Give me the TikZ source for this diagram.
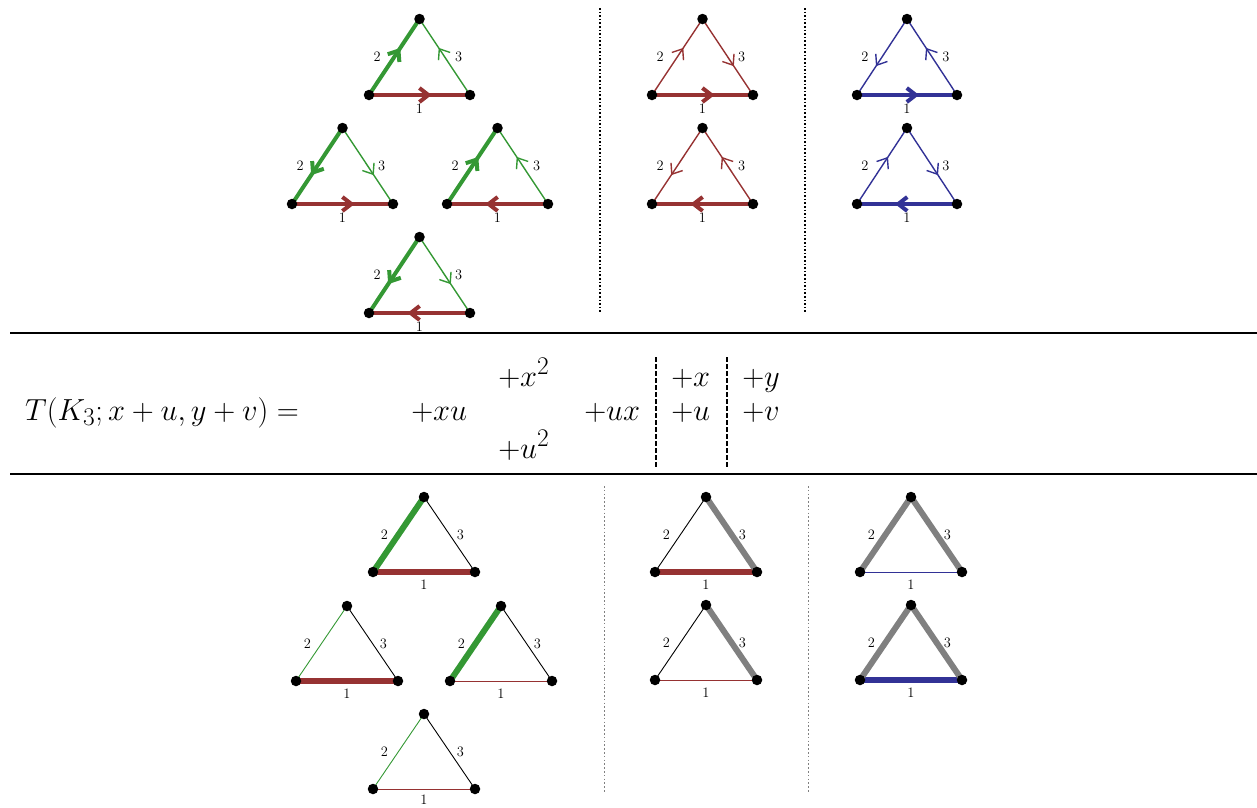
\documentclass[tikz,border=0pt]{standalone}
\usetikzlibrary{arrows.meta,decorations.markings}
\definecolor{cg}{RGB}{52,152,52}
\definecolor{cr}{RGB}{150,50,50}
\definecolor{cb}{RGB}{50,50,150}
\definecolor{cgr}{RGB}{128,128,128}
\pgfdeclarelayer{bg}
\pgfsetlayers{bg,main}
\tikzset{
  vtx/.style={circle, fill=black, inner sep=0pt, minimum size=10.5pt},
  lbl/.style={font=\fontsize{14.4}{16}\selectfont, inner sep=0pt},
  eqn/.style={font=\fontsize{24.88}{30}\selectfont, inner sep=0pt, anchor=base west, scale=1.226, transform shape},
  midarrow/.style={postaction={decorate, decoration={markings,
      mark=at position 0.62 with {\arrow{Straight Barb[length=9pt,width=14pt]}}}}},
  thk/.style={line width=4pt},
  thn/.style={line width=1.4pt},
  fat/.style={line width=6pt},
  fine/.style={line width=0.9pt},
  sepline/.style={line width=2.3pt},
  topsep/.style={line width=1.4pt, dash pattern=on 1.6pt off 2pt},
  botsep/.style={line width=0.9pt, cgr, dash pattern=on 1.6pt off 2.2pt},
  eqsep/.style={line width=2pt, dash pattern=on 4.5pt off 2.5pt},
}
% #1 name, #2 x of left vertex, #3 y of base, #4 width, #5 height, #6 dx of label 2, #7 dx of label 3, #8 dy of label 1
\newcommand\tri[8]{%
  \node[vtx] (#1l) at (#2,#3) {};
  \node[vtx] (#1r) at (#2+#4,#3) {};
  \node[vtx] (#1t) at (#2+#4/2,#3-#5) {};
  \node[lbl] (#1n1) at (#2+#4/2,#3+#8) {1};
  \node[lbl] (#1n2) at (#2+#4/4+#6,#3-#5/2) {2};
  \node[lbl] (#1n3) at (#2+3*#4/4+#7,#3-#5/2) {3};
}
\begin{document}
\begin{tikzpicture}[x=1pt,y=-1pt]
\useasboundingbox (0,0) rectangle (1257,807);
% ---------- top section ----------
\tri{A}{369}{95}{101}{76}{-17}{14}{14}
\tri{B}{292}{204}{101}{76}{-17}{14}{14}
\tri{C}{447}{204}{101}{76}{-17}{14}{14}
\tri{D}{369}{313}{101}{76}{-17}{14}{14}
\tri{E}{652}{95}{101}{76}{-17}{14}{14}
\tri{F}{652}{204}{101}{76}{-17}{14}{14}
\tri{G}{857}{95}{100}{76}{-17}{14}{14}
\tri{H}{857}{204}{100}{76}{-17}{14}{14}
% ---------- bottom section ----------
\tri{I}{373}{572}{102}{75}{-14}{11}{13}
\tri{N}{296}{681}{102}{75}{-14}{11}{13}
\tri{O}{450}{681}{102}{75}{-14}{11}{13}
\tri{P}{373}{789}{102}{75}{-14}{11}{11}
\tri{J}{655}{572}{102}{75}{-14}{11}{13}
\tri{L}{655}{680}{102}{75}{-14}{11}{13}
\tri{K}{860}{572}{102}{75}{-14}{11}{13}
\tri{M}{860}{680}{102}{75}{-14}{11}{13}
\begin{pgfonlayer}{bg}
  % A
  \draw[cr,thk,midarrow] (Al.center) -- (Ar.center);
  \draw[cg,thk,midarrow] (Al.center) -- (At.center);
  \draw[cg,thn,midarrow] (Ar.center) -- (At.center);
  % B
  \draw[cr,thk,midarrow] (Bl.center) -- (Br.center);
  \draw[cg,thk,midarrow] (Bt.center) -- (Bl.center);
  \draw[cg,thn,midarrow] (Bt.center) -- (Br.center);
  % C
  \draw[cr,thk,midarrow] (Cr.center) -- (Cl.center);
  \draw[cg,thk,midarrow] (Cl.center) -- (Ct.center);
  \draw[cg,thn,midarrow] (Cr.center) -- (Ct.center);
  % D
  \draw[cr,thk,midarrow] (Dr.center) -- (Dl.center);
  \draw[cg,thk,midarrow] (Dt.center) -- (Dl.center);
  \draw[cg,thn,midarrow] (Dt.center) -- (Dr.center);
  % E
  \draw[cr,thk,midarrow] (El.center) -- (Er.center);
  \draw[cr,thn,midarrow] (El.center) -- (Et.center);
  \draw[cr,thn,midarrow] (Et.center) -- (Er.center);
  % F
  \draw[cr,thk,midarrow] (Fr.center) -- (Fl.center);
  \draw[cr,thn,midarrow] (Ft.center) -- (Fl.center);
  \draw[cr,thn,midarrow] (Fr.center) -- (Ft.center);
  % G
  \draw[cb,thk,midarrow] (Gl.center) -- (Gr.center);
  \draw[cb,thn,midarrow] (Gt.center) -- (Gl.center);
  \draw[cb,thn,midarrow] (Gr.center) -- (Gt.center);
  % H
  \draw[cb,thk,midarrow] (Hr.center) -- (Hl.center);
  \draw[cb,thn,midarrow] (Hl.center) -- (Ht.center);
  \draw[cb,thn,midarrow] (Ht.center) -- (Hr.center);
  % I
  \draw[cr,fat] (Il.center) -- (Ir.center);
  \draw[cg,fat] (Il.center) -- (It.center);
  \draw[black,fine] (Ir.center) -- (It.center);
  % N
  \draw[cr,fat] (Nl.center) -- (Nr.center);
  \draw[cg,fine] (Nl.center) -- (Nt.center);
  \draw[black,fine] (Nr.center) -- (Nt.center);
  % O
  \draw[cr,fine] (Ol.center) -- (Or.center);
  \draw[cg,fat] (Ol.center) -- (Ot.center);
  \draw[black,fine] (Or.center) -- (Ot.center);
  % P
  \draw[cr,fine] (Pl.center) -- (Pr.center);
  \draw[cg,fine] (Pl.center) -- (Pt.center);
  \draw[black,fine] (Pr.center) -- (Pt.center);
  % J
  \draw[cr,fat] (Jl.center) -- (Jr.center);
  \draw[black,fine] (Jl.center) -- (Jt.center);
  \draw[cgr,fat] (Jr.center) -- (Jt.center);
  % L
  \draw[cr,fine] (Ll.center) -- (Lr.center);
  \draw[black,fine] (Ll.center) -- (Lt.center);
  \draw[cgr,fat] (Lr.center) -- (Lt.center);
  % K
  \draw[cb,fine] (Kl.center) -- (Kr.center);
  \draw[cgr,fat] (Kl.center) -- (Kt.center);
  \draw[cgr,fat] (Kr.center) -- (Kt.center);
  % M
  \draw[cb,fat] (Ml.center) -- (Mr.center);
  \draw[cgr,fat] (Ml.center) -- (Mt.center);
  \draw[cgr,fat] (Mr.center) -- (Mt.center);
\end{pgfonlayer}
% ---------- separators ----------
\coordinate (s1a) at (600,8);   \coordinate (s1b) at (600,313);
\coordinate (s2a) at (805,8);   \coordinate (s2b) at (805,313);
\coordinate (s3a) at (604,486); \coordinate (s3b) at (604,792);
\coordinate (s4a) at (808,486); \coordinate (s4b) at (808,792);
\draw[topsep] (s1a) -- (s1b);
\draw[topsep] (s2a) -- (s2b);
\draw[botsep] (s3a) -- (s3b);
\draw[botsep] (s4a) -- (s4b);
\coordinate (h1a) at (10,333);  \coordinate (h1b) at (1257,333);
\coordinate (h2a) at (10,474);  \coordinate (h2b) at (1257,474);
\draw[sepline] (h1a) -- (h1b);
\draw[line width=1.8pt] (h2a) -- (h2b);
% ---------- equation ----------
\node[eqn] (lhs) at (25,420) {$T(K_3;x+u,y+v)=$};
\node[eqn] (xu)  at (411,420) {$+xu$};
\node[eqn] (x2)  at (498,386) {$+x^2$};
\node[eqn] (u2)  at (498,458) {$+u^2$};
\node[eqn] (ux)  at (584,420) {$+ux$};
\node[eqn] (px)  at (671,386) {$+x$};
\node[eqn] (pu)  at (671,420) {$+u$};
\node[eqn] (py)  at (742,386) {$+y$};
\node[eqn] (pv)  at (742,420) {$+v$};
\coordinate (d1a) at (656,357); \coordinate (d1b) at (656,468);
\coordinate (d2a) at (727,357); \coordinate (d2b) at (727,468);
\draw[eqsep] (d1a) -- (d1b);
\draw[eqsep, line width=2.6pt] (d2a) -- (d2b);
\end{tikzpicture}
\end{document}
